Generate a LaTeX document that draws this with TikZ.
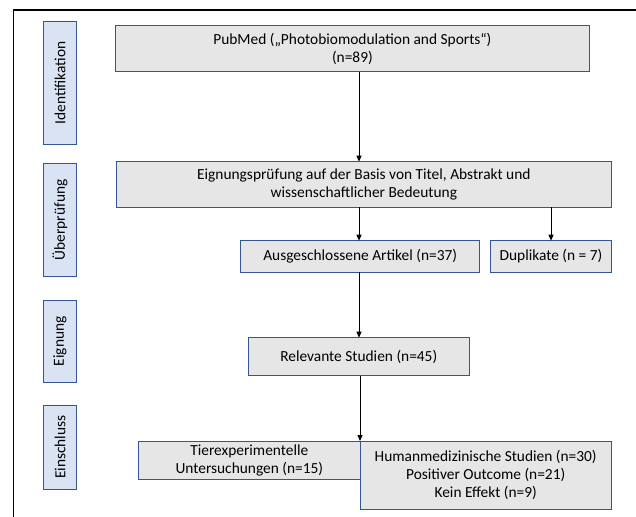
\documentclass[tikz,border=0pt]{standalone}
\usepackage{fontspec}
\setmainfont{Carlito}
\usetikzlibrary{arrows.meta}
\definecolor{lblfill}{HTML}{DAE3F3}
\definecolor{boxfill}{HTML}{E6E6E6}
\definecolor{bordercol}{RGB}{52,85,145}
\begin{document}
\begin{tikzpicture}[x=1pt,y=-1pt,
  every node/.style={font=\fontsize{15.4}{18}\selectfont, inner sep=0pt, outer sep=0pt, align=center},
  flowbox/.style={draw=bordercol, fill=boxfill, line width=0.9pt},
  lblbox/.style={draw=bordercol, fill=lblfill, line width=0.9pt},
  arr/.style={draw=black, line width=0.9pt, -{Triangle[length=6pt,width=5pt]}}]
\useasboundingbox (0,0) rectangle (636,516);
% outer frame
\draw[line width=1.3pt] (13.3,520) -- (13.3,10) -- (640,10);
% phase labels
\node[lblbox, minimum width=33.4pt, minimum height=122.3pt] (l1) at (60,82.85) {};
\node[rotate=90] (t1) at (l1.center) {Identifikation};
\node[lblbox, minimum width=33.4pt, minimum height=113pt] (l2) at (60,219.8) {};
\node[rotate=90] (t2) at (l2.center) {Überprüfung};
\node[lblbox, minimum width=33.4pt, minimum height=82.3pt] (l3) at (60,341.15) {};
\node[rotate=90] (t3) at (l3.center) {Eignung};
\node[lblbox, minimum width=33.4pt, minimum height=83.5pt] (l4) at (60,447.25) {};
\node[rotate=90] (t4) at (l4.center) {Einschluss};
% flow boxes
\node[flowbox, minimum width=473.3pt, minimum height=46pt] (pub) at (352.4,48.7)
  {PubMed („Photobiomodulation and Sports“)\\(n=89)};
\node[flowbox, minimum width=494.3pt, minimum height=45.6pt] (elig) at (363.85,184.5)
  {Eignungsprüfung auf der Basis von Titel, Abstrakt und\\wissenschaftlicher Bedeutung};
\node[flowbox, minimum width=239.1pt, minimum height=31.3pt] (aus) at (360.15,256.35)
  {Ausgeschlossene Artikel (n=37)};
\node[flowbox, minimum width=120.7pt, minimum height=31.3pt] (dup) at (551,256.35)
  {Duplikate (n = 7)};
\node[flowbox, minimum width=221.5pt, minimum height=38pt] (rel) at (358.75,356.7)
  {Relevante Studien (n=45)};
\node[flowbox, minimum width=221.4pt, minimum height=38.3pt] (tier) at (249.3,460.15)
  {Tierexperimentelle\\Untersuchungen (n=15)};
\node[flowbox, minimum width=251.4pt, minimum height=68pt] (hum) at (485.7,475)
  {Humanmedizinische Studien (n=30)\\Positiver Outcome (n=21)\\Kein Effekt (n=9)};
% connectors
\coordinate (c1) at (359,0);
\coordinate (c2) at (360,0);
\draw[arr] (pub.south -| c1) -- (elig.north -| c1);
\draw[arr] (elig.south -| c1) -- (aus.north -| c1);
\draw[arr] (dup.north |- elig.south) -- (dup.north);
\draw[arr] (aus.south -| c1) -- (rel.north -| c1);
\draw[arr] (rel.south -| c2) -- (hum.north west);
\end{tikzpicture}
\end{document}
